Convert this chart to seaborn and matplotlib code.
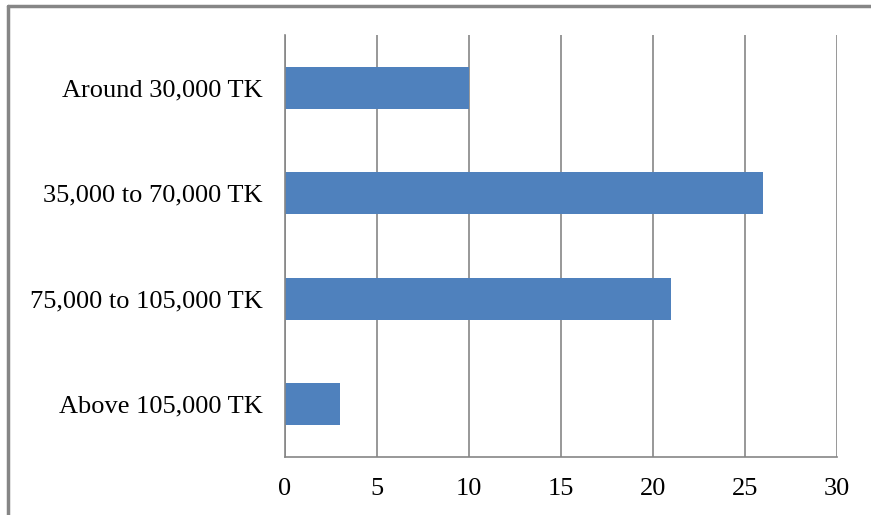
import numpy as np
import pandas as pd
import matplotlib.pyplot as plt
import seaborn as sns
from matplotlib.lines import Line2D

sns.set_style("white")
plt.rcParams['font.family'] = ['Liberation Serif', 'DejaVu Serif']
plt.rcParams['text.color'] = 'black'
plt.rcParams['xtick.color'] = 'black'
plt.rcParams['ytick.color'] = 'black'

# income groups and counts, top to bottom
categories = ["Around 30,000 TK", "35,000 to 70,000 TK", "75,000 to 105,000 TK", "Above 105,000 TK"]
counts = [10, 26, 21, 3]
xticks = [0, 5, 10, 15, 20, 25, 30]

df = pd.DataFrame({"group": categories, "count": counts})

grey = "#868686"
fig = plt.figure(figsize=(8.71, 5.15), dpi=100)
ax = fig.add_axes([0.327, 0.1126, 0.634, 0.8194])

sns.barplot(data=df, x="count", y="group", orient="h", color="#4F81BD",
            saturation=1, width=0.4, linewidth=0, ax=ax)

ax.set_xlim(0, 30)
ax.set_ylim(3.5, -0.5)
ax.set_xticks(xticks)
ax.set_xlabel("")
ax.set_ylabel("")

# vertical gridlines
ax.grid(axis="x", color=grey, linewidth=1.2)
ax.set_axisbelow(True)

for s in ["top", "right"]:
    ax.spines[s].set_visible(False)
for s in ["left", "bottom"]:
    ax.spines[s].set_color(grey)
    ax.spines[s].set_linewidth(1.2)

# category separator ticks on the y axis
ax.set_yticks([-0.5, 0.5, 1.5, 2.5, 3.5], minor=True)
ax.tick_params(axis="y", which="minor", length=7, color=grey, width=1.2, direction="out")
ax.tick_params(axis="y", which="major", length=0, pad=16, labelsize=19, labelcolor="black")
ax.tick_params(axis="x", length=7, color=grey, width=1.2, direction="out",
               labelsize=19, labelcolor="black", pad=8)

# chart-area border (top and left visible)
fig.add_artist(Line2D([0.009, 0.009], [0, 0.988], transform=fig.transFigure, color=grey, linewidth=2.5))
fig.add_artist(Line2D([0.009, 1], [0.988, 0.988], transform=fig.transFigure, color=grey, linewidth=2.5))

fig.savefig("out.png", dpi=100)
